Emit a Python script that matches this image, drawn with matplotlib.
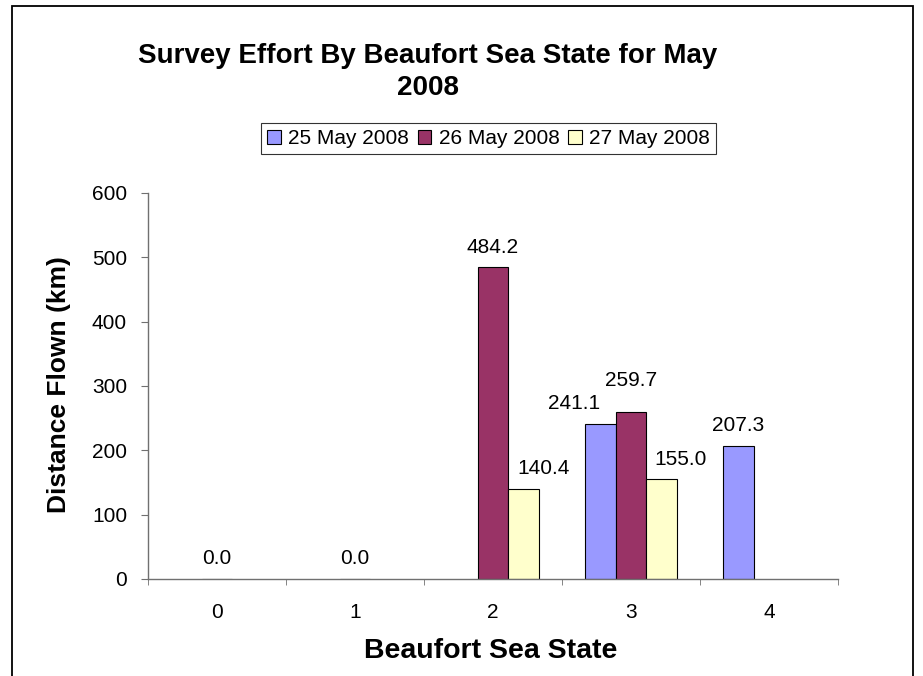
import matplotlib.pyplot as plt
import numpy as np

plt.rcParams['font.family'] = ['Liberation Sans', 'DejaVu Sans']

# data (None = no bar)
categories = ["0", "1", "2", "3", "4"]
series_names = ["25 May 2008", "26 May 2008", "27 May 2008"]
may25 = [None, None, None, 241.1, 207.3]
may26 = [0.0, 0.0, 484.2, 259.7, None]
may27 = [None, None, 140.4, 155.0, None]
series = [may25, may26, may27]
colors = ["#9999FF", "#993366", "#FFFFCC"]

# label nudges (pixels) where excel moved labels out of the way
label_shift = {(0, 3): (-26, 0), (1, 3): (0, 11), (2, 2): (20, 0), (2, 3): (19, 0)}

W, H = 923, 676
PT = 0.72  # points per pixel at dpi 100
fig = plt.figure(figsize=(W / 100, H / 100), dpi=100)

# outer chart border
fig.patches.append(plt.Rectangle((12 / W, -0.1), 901 / W, 1.1 - 6 / H, transform=fig.transFigure,
                                 fill=False, edgecolor="black", linewidth=1.3))

ax = fig.add_axes([148 / W, (H - 579) / H, 690 / W, (579 - 193) / H])

x = np.arange(len(categories))
bw = 2 / 9
for i, (vals, col) in enumerate(zip(series, colors)):
    for j, v in enumerate(vals):
        if v is None:
            continue
        xc = x[j] + (i - 1) * bw
        ax.bar(xc, v, width=bw, color=col, edgecolor="black", linewidth=0.8, zorder=2)
        dx, dy = label_shift.get((i, j), (0, 0))
        ax.annotate("%.1f" % v, (xc, v), xytext=(dx * PT, (20 + dy) * PT),
                    textcoords="offset points", ha="center", va="center", fontsize=15)

ax.set_xlim(-0.5, 4.5)
ax.set_ylim(0, 600)
ax.set_yticks(np.arange(0, 601, 100))
ax.set_xticks(x)
ax.set_xticklabels(categories)
ax.set_xticks(np.arange(-0.5, 4.6, 1), minor=True)
ax.tick_params(axis="x", which="major", length=0, labelsize=15, pad=24 * PT)
ax.tick_params(axis="x", which="minor", length=6 * PT, direction="out", color="#707070")
ax.tick_params(axis="y", length=7 * PT, direction="out", labelsize=15, pad=14 * PT, color="#707070")
for s in ["top", "right"]:
    ax.spines[s].set_visible(False)
for s in ["left", "bottom"]:
    ax.spines[s].set_color("#707070")
    ax.spines[s].set_linewidth(1.0)

# va='baseline' pins the last line's baseline
fig.text(428 / W, 1 - 95 / H, "Survey Effort By Beaufort Sea State for May\n2008",
         ha="center", va="baseline", fontsize=20, fontweight="bold", linespacing=1.3)
fig.text(59 / W, 1 - 385 / H, "Distance Flown (km)", rotation=90, ha="center", va="center",
         fontsize=19, fontweight="bold")
fig.text(491 / W, 1 - 651 / H, "Beaufort Sea State", ha="center", va="center",
         fontsize=20.5, fontweight="bold")

handles = [plt.Rectangle((0, 0), 1, 1, facecolor=c, edgecolor="black", linewidth=0.8) for c in colors]
leg = fig.legend(handles, series_names, loc="center", bbox_to_anchor=(488.5 / W, 1 - 138.5 / H),
                 ncol=3, fontsize=15, frameon=True, fancybox=False, handlelength=0.67,
                 handleheight=0.67, handletextpad=0.34, columnspacing=0.4, borderpad=0.3,
                 borderaxespad=0)
leg.get_frame().set_edgecolor("black")
leg.get_frame().set_linewidth(0.8)

fig.savefig("out.png", dpi=100)
